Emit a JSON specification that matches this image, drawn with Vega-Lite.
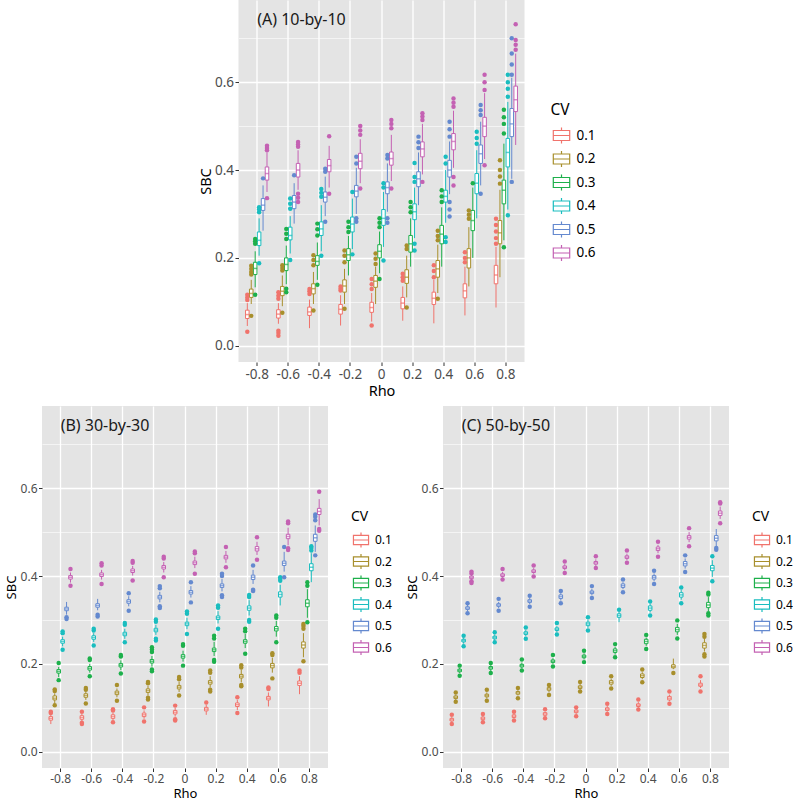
{
"$schema": "https://vega.github.io/schema/vega-lite/v6.json",
"padding": {"left": 5, "top": 0, "right": 0, "bottom": 0},
"config": {
  "font": "Noto Sans",
  "view": {"fill": "#E4E4E4", "stroke": null},
  "axis": {"labelFont": "Noto Sans", "titleFont": "Noto Sans", "labelFontSize": 12, "labelColor": "#4D4D4D", "titleFontSize": 13, "titleFontWeight": "normal", "titleColor": "black", "tickColor": "#333333", "tickSize": 3.5, "labelPadding": 1.5, "titlePadding": 2, "domain": false, "gridColor": "white"},
  "legend": {"titleFont": "Noto Sans", "labelFont": "Noto Sans", "titleFontSize": 14, "titleFontWeight": "normal", "labelFontSize": 12, "labelColor": "black", "symbolType": "M-0.82,-0.5H0.82V0.5H-0.82Z M-0.82,0H0.82 M0,-0.5V-0.8 M0,0.5V0.8", "symbolSize": 340, "symbolStrokeWidth": 1.2, "rowPadding": 1.5, "titlePadding": 6, "labelOffset": 4}
},
"datasets": {"d": [
{"p":"A","r":"-0.8","c":"0.1","lo":0.045,"q1":0.062,"m":0.071,"q3":0.081,"hi":0.097,"o":[0.032,0.104,0.110,0.116]},
{"p":"A","r":"-0.8","c":"0.2","lo":0.095,"q1":0.110,"m":0.119,"q3":0.129,"hi":0.150,"o":[0.068,0.162,0.168,0.175,0.182]},
{"p":"A","r":"-0.8","c":"0.3","lo":0.133,"q1":0.162,"m":0.176,"q3":0.190,"hi":0.215,"o":[0.116,0.232,0.238,0.243]},
{"p":"A","r":"-0.8","c":"0.4","lo":0.205,"q1":0.228,"m":0.240,"q3":0.259,"hi":0.290,"o":[0.188,0.304,0.310,0.315]},
{"p":"A","r":"-0.8","c":"0.5","lo":0.262,"q1":0.308,"m":0.320,"q3":0.335,"hi":0.365,"o":[0.381]},
{"p":"A","r":"-0.8","c":"0.6","lo":0.350,"q1":0.377,"m":0.392,"q3":0.407,"hi":0.440,"o":[0.336,0.445,0.450,0.455]},
{"p":"A","r":"-0.6","c":"0.1","lo":0.050,"q1":0.063,"m":0.072,"q3":0.082,"hi":0.097,"o":[0.023,0.029,0.034,0.107,0.114,0.122]},
{"p":"A","r":"-0.6","c":"0.2","lo":0.090,"q1":0.114,"m":0.124,"q3":0.135,"hi":0.160,"o":[0.075,0.171,0.177,0.183]},
{"p":"A","r":"-0.6","c":"0.3","lo":0.140,"q1":0.171,"m":0.185,"q3":0.200,"hi":0.228,"o":[0.122,0.130,0.243,0.255,0.266]},
{"p":"A","r":"-0.6","c":"0.4","lo":0.210,"q1":0.241,"m":0.251,"q3":0.270,"hi":0.295,"o":[0.195,0.312,0.323,0.335]},
{"p":"A","r":"-0.6","c":"0.5","lo":0.278,"q1":0.312,"m":0.327,"q3":0.342,"hi":0.370,"o":[0.388]},
{"p":"A","r":"-0.6","c":"0.6","lo":0.355,"q1":0.384,"m":0.400,"q3":0.415,"hi":0.445,"o":[0.327,0.337,0.346,0.453,0.458,0.464]},
{"p":"A","r":"-0.4","c":"0.1","lo":0.040,"q1":0.069,"m":0.077,"q3":0.088,"hi":0.105,"o":[0.118,0.124,0.129]},
{"p":"A","r":"-0.4","c":"0.2","lo":0.095,"q1":0.118,"m":0.130,"q3":0.141,"hi":0.168,"o":[0.080,0.183,0.195,0.206]},
{"p":"A","r":"-0.4","c":"0.3","lo":0.150,"q1":0.183,"m":0.192,"q3":0.205,"hi":0.235,"o":[0.139,0.251,0.265,0.278]},
{"p":"A","r":"-0.4","c":"0.4","lo":0.215,"q1":0.251,"m":0.266,"q3":0.282,"hi":0.320,"o":[0.205,0.339,0.348,0.357]},
{"p":"A","r":"-0.4","c":"0.5","lo":0.295,"q1":0.327,"m":0.338,"q3":0.350,"hi":0.385,"o":[0.282,0.396,0.403]},
{"p":"A","r":"-0.4","c":"0.6","lo":0.360,"q1":0.396,"m":0.410,"q3":0.424,"hi":0.455,"o":[0.346,0.477]},
{"p":"A","r":"-0.2","c":"0.1","lo":0.046,"q1":0.072,"m":0.083,"q3":0.094,"hi":0.115,"o":[0.126,0.130,0.135]},
{"p":"A","r":"-0.2","c":"0.2","lo":0.095,"q1":0.122,"m":0.136,"q3":0.150,"hi":0.175,"o":[0.084,0.190,0.205,0.217]},
{"p":"A","r":"-0.2","c":"0.3","lo":0.160,"q1":0.194,"m":0.207,"q3":0.221,"hi":0.250,"o":[0.259,0.270,0.282]},
{"p":"A","r":"-0.2","c":"0.4","lo":0.220,"q1":0.259,"m":0.277,"q3":0.293,"hi":0.335,"o":[0.208,0.350]},
{"p":"A","r":"-0.2","c":"0.5","lo":0.300,"q1":0.339,"m":0.352,"q3":0.365,"hi":0.405,"o":[0.282,0.290,0.415,0.430]},
{"p":"A","r":"-0.2","c":"0.6","lo":0.370,"q1":0.403,"m":0.420,"q3":0.438,"hi":0.470,"o":[0.358,0.480,0.490,0.500]},
{"p":"A","r":"0","c":"0.1","lo":0.055,"q1":0.076,"m":0.087,"q3":0.099,"hi":0.120,"o":[0.046,0.129,0.140,0.152]},
{"p":"A","r":"0","c":"0.2","lo":0.095,"q1":0.133,"m":0.147,"q3":0.160,"hi":0.180,"o":[0.186,0.198,0.210]},
{"p":"A","r":"0","c":"0.3","lo":0.165,"q1":0.200,"m":0.215,"q3":0.230,"hi":0.260,"o":[0.152,0.270,0.280,0.290]},
{"p":"A","r":"0","c":"0.4","lo":0.225,"q1":0.274,"m":0.290,"q3":0.310,"hi":0.350,"o":[0.194,0.360,0.370]},
{"p":"A","r":"0","c":"0.5","lo":0.305,"q1":0.346,"m":0.360,"q3":0.373,"hi":0.415,"o":[0.280,0.290,0.426,0.434]},
{"p":"A","r":"0","c":"0.6","lo":0.375,"q1":0.411,"m":0.426,"q3":0.441,"hi":0.480,"o":[0.358,0.495,0.505,0.514]},
{"p":"A","r":"0.2","c":"0.1","lo":0.057,"q1":0.084,"m":0.097,"q3":0.110,"hi":0.135,"o":[0.148,0.156,0.164]},
{"p":"A","r":"0.2","c":"0.2","lo":0.110,"q1":0.142,"m":0.156,"q3":0.173,"hi":0.205,"o":[0.087,0.220,0.228]},
{"p":"A","r":"0.2","c":"0.3","lo":0.180,"q1":0.213,"m":0.232,"q3":0.251,"hi":0.290,"o":[0.304,0.315,0.327]},
{"p":"A","r":"0.2","c":"0.4","lo":0.245,"q1":0.287,"m":0.305,"q3":0.323,"hi":0.360,"o":[0.217,0.232,0.373,0.384,0.416]},
{"p":"A","r":"0.2","c":"0.5","lo":0.320,"q1":0.362,"m":0.380,"q3":0.396,"hi":0.440,"o":[0.450,0.463,0.476]},
{"p":"A","r":"0.2","c":"0.6","lo":0.390,"q1":0.430,"m":0.448,"q3":0.464,"hi":0.505,"o":[0.373,0.514,0.522,0.529]},
{"p":"A","r":"0.4","c":"0.1","lo":0.051,"q1":0.094,"m":0.108,"q3":0.122,"hi":0.150,"o":[0.156,0.170,0.183]},
{"p":"A","r":"0.4","c":"0.2","lo":0.120,"q1":0.156,"m":0.175,"q3":0.194,"hi":0.230,"o":[0.107,0.240,0.250,0.262]},
{"p":"A","r":"0.4","c":"0.3","lo":0.180,"q1":0.232,"m":0.254,"q3":0.274,"hi":0.315,"o":[0.327,0.340,0.354]},
{"p":"A","r":"0.4","c":"0.4","lo":0.280,"q1":0.327,"m":0.340,"q3":0.354,"hi":0.400,"o":[0.236,0.247,0.415,0.430]},
{"p":"A","r":"0.4","c":"0.5","lo":0.345,"q1":0.384,"m":0.400,"q3":0.422,"hi":0.465,"o":[0.294,0.310,0.327,0.476,0.493,0.510]},
{"p":"A","r":"0.4","c":"0.6","lo":0.405,"q1":0.446,"m":0.465,"q3":0.483,"hi":0.535,"o":[0.365,0.384,0.544,0.553,0.563]},
{"p":"A","r":"0.6","c":"0.1","lo":0.069,"q1":0.109,"m":0.125,"q3":0.141,"hi":0.180,"o":[0.190,0.200,0.213]},
{"p":"A","r":"0.6","c":"0.2","lo":0.135,"q1":0.177,"m":0.200,"q3":0.221,"hi":0.270,"o":[0.289,0.298,0.308]},
{"p":"A","r":"0.6","c":"0.3","lo":0.200,"q1":0.262,"m":0.285,"q3":0.308,"hi":0.360,"o":[0.370]},
{"p":"A","r":"0.6","c":"0.4","lo":0.290,"q1":0.346,"m":0.370,"q3":0.392,"hi":0.445,"o":[0.460,0.473,0.487]},
{"p":"A","r":"0.6","c":"0.5","lo":0.365,"q1":0.415,"m":0.437,"q3":0.457,"hi":0.510,"o":[0.346,0.525,0.536,0.548]},
{"p":"A","r":"0.6","c":"0.6","lo":0.425,"q1":0.476,"m":0.500,"q3":0.520,"hi":0.575,"o":[0.411,0.582,0.600,0.617]},
{"p":"A","r":"0.8","c":"0.1","lo":0.087,"q1":0.141,"m":0.161,"q3":0.183,"hi":0.225,"o":[0.232,0.245,0.260,0.275,0.289]},
{"p":"A","r":"0.8","c":"0.2","lo":0.156,"q1":0.232,"m":0.257,"q3":0.285,"hi":0.355,"o":[0.369,0.385,0.400,0.422]},
{"p":"A","r":"0.8","c":"0.3","lo":0.240,"q1":0.323,"m":0.354,"q3":0.377,"hi":0.460,"o":[0.224,0.483,0.505,0.520,0.537]},
{"p":"A","r":"0.8","c":"0.4","lo":0.310,"q1":0.407,"m":0.440,"q3":0.472,"hi":0.555,"o":[0.297,0.567,0.585,0.600,0.617]},
{"p":"A","r":"0.8","c":"0.5","lo":0.380,"q1":0.476,"m":0.505,"q3":0.540,"hi":0.610,"o":[0.373,0.617,0.640,0.665,0.700]},
{"p":"A","r":"0.8","c":"0.6","lo":0.457,"q1":0.533,"m":0.560,"q3":0.591,"hi":0.665,"o":[0.674,0.685,0.696,0.732]},

{"p":"B","r":"-0.8","c":"0.1","lo":0.063,"q1":0.072,"m":0.076,"q3":0.080,"hi":0.085,"o":[0.088,0.091]},
{"p":"B","r":"-0.8","c":"0.2","lo":0.110,"q1":0.118,"m":0.122,"q3":0.127,"hi":0.133,"o":[0.106,0.138,0.142]},
{"p":"B","r":"-0.8","c":"0.3","lo":0.170,"q1":0.179,"m":0.183,"q3":0.187,"hi":0.193,"o":[0.163,0.202]},
{"p":"B","r":"-0.8","c":"0.4","lo":0.240,"q1":0.247,"m":0.251,"q3":0.255,"hi":0.262,"o":[0.232,0.270,0.274]},
{"p":"B","r":"-0.8","c":"0.5","lo":0.312,"q1":0.321,"m":0.325,"q3":0.329,"hi":0.341,"o":[0.302,0.306]},
{"p":"B","r":"-0.8","c":"0.6","lo":0.385,"q1":0.393,"m":0.397,"q3":0.401,"hi":0.408,"o":[0.378,0.416]},
{"p":"B","r":"-0.6","c":"0.1","lo":0.068,"q1":0.074,"m":0.078,"q3":0.082,"hi":0.086,"o":[0.063,0.066,0.091]},
{"p":"B","r":"-0.6","c":"0.2","lo":0.118,"q1":0.124,"m":0.128,"q3":0.132,"hi":0.137,"o":[0.110,0.141,0.145]},
{"p":"B","r":"-0.6","c":"0.3","lo":0.180,"q1":0.186,"m":0.190,"q3":0.194,"hi":0.200,"o":[0.172,0.209,0.212]},
{"p":"B","r":"-0.6","c":"0.4","lo":0.250,"q1":0.256,"m":0.260,"q3":0.264,"hi":0.270,"o":[0.242,0.276,0.280]},
{"p":"B","r":"-0.6","c":"0.5","lo":0.322,"q1":0.329,"m":0.333,"q3":0.337,"hi":0.348,"o":[0.308,0.312]},
{"p":"B","r":"-0.6","c":"0.6","lo":0.392,"q1":0.399,"m":0.403,"q3":0.407,"hi":0.414,"o":[0.382,0.424,0.429]},
{"p":"B","r":"-0.4","c":"0.1","lo":0.071,"q1":0.076,"m":0.080,"q3":0.084,"hi":0.089,"o":[0.067,0.094,0.097]},
{"p":"B","r":"-0.4","c":"0.2","lo":0.124,"q1":0.130,"m":0.134,"q3":0.138,"hi":0.144,"o":[0.116,0.152]},
{"p":"B","r":"-0.4","c":"0.3","lo":0.186,"q1":0.193,"m":0.197,"q3":0.201,"hi":0.208,"o":[0.178,0.217,0.220]},
{"p":"B","r":"-0.4","c":"0.4","lo":0.257,"q1":0.264,"m":0.268,"q3":0.272,"hi":0.280,"o":[0.249,0.289,0.293]},
{"p":"B","r":"-0.4","c":"0.5","lo":0.331,"q1":0.338,"m":0.342,"q3":0.346,"hi":0.354,"o":[0.321,0.361]},
{"p":"B","r":"-0.4","c":"0.6","lo":0.401,"q1":0.408,"m":0.412,"q3":0.416,"hi":0.423,"o":[0.390,0.430,0.434]},
{"p":"B","r":"-0.2","c":"0.1","lo":0.075,"q1":0.080,"m":0.084,"q3":0.088,"hi":0.094,"o":[0.069,0.101]},
{"p":"B","r":"-0.2","c":"0.2","lo":0.128,"q1":0.135,"m":0.139,"q3":0.143,"hi":0.150,"o":[0.119,0.123,0.156,0.159]},
{"p":"B","r":"-0.2","c":"0.3","lo":0.194,"q1":0.202,"m":0.206,"q3":0.210,"hi":0.218,"o":[0.183,0.187,0.227,0.233,0.238]},
{"p":"B","r":"-0.2","c":"0.4","lo":0.266,"q1":0.273,"m":0.277,"q3":0.281,"hi":0.289,"o":[0.253,0.257,0.296,0.301]},
{"p":"B","r":"-0.2","c":"0.5","lo":0.340,"q1":0.348,"m":0.352,"q3":0.356,"hi":0.364,"o":[0.327,0.331,0.372,0.377]},
{"p":"B","r":"-0.2","c":"0.6","lo":0.408,"q1":0.416,"m":0.420,"q3":0.424,"hi":0.432,"o":[0.397,0.440,0.444]},
{"p":"B","r":"0","c":"0.1","lo":0.080,"q1":0.086,"m":0.090,"q3":0.094,"hi":0.100,"o":[0.071,0.074,0.105]},
{"p":"B","r":"0","c":"0.2","lo":0.136,"q1":0.143,"m":0.147,"q3":0.151,"hi":0.159,"o":[0.128,0.165,0.170]},
{"p":"B","r":"0","c":"0.3","lo":0.205,"q1":0.213,"m":0.217,"q3":0.221,"hi":0.230,"o":[0.196,0.241,0.245]},
{"p":"B","r":"0","c":"0.4","lo":0.279,"q1":0.287,"m":0.291,"q3":0.295,"hi":0.305,"o":[0.268,0.314,0.319]},
{"p":"B","r":"0","c":"0.5","lo":0.351,"q1":0.359,"m":0.363,"q3":0.367,"hi":0.377,"o":[0.340,0.386]},
{"p":"B","r":"0","c":"0.6","lo":0.418,"q1":0.426,"m":0.430,"q3":0.434,"hi":0.444,"o":[0.405,0.452,0.456]},
{"p":"B","r":"0.2","c":"0.1","lo":0.084,"q1":0.093,"m":0.097,"q3":0.101,"hi":0.107,"o":[0.112]},
{"p":"B","r":"0.2","c":"0.2","lo":0.146,"q1":0.154,"m":0.158,"q3":0.162,"hi":0.172,"o":[0.137,0.141,0.180,0.185]},
{"p":"B","r":"0.2","c":"0.3","lo":0.218,"q1":0.228,"m":0.232,"q3":0.236,"hi":0.250,"o":[0.205,0.209,0.258,0.264]},
{"p":"B","r":"0.2","c":"0.4","lo":0.292,"q1":0.301,"m":0.305,"q3":0.309,"hi":0.320,"o":[0.280,0.328,0.333]},
{"p":"B","r":"0.2","c":"0.5","lo":0.365,"q1":0.374,"m":0.378,"q3":0.382,"hi":0.393,"o":[0.352,0.356,0.400,0.405]},
{"p":"B","r":"0.2","c":"0.6","lo":0.430,"q1":0.439,"m":0.443,"q3":0.447,"hi":0.457,"o":[0.420,0.466]},
{"p":"B","r":"0.4","c":"0.1","lo":0.095,"q1":0.103,"m":0.107,"q3":0.111,"hi":0.118,"o":[0.088,0.124]},
{"p":"B","r":"0.4","c":"0.2","lo":0.158,"q1":0.168,"m":0.172,"q3":0.176,"hi":0.187,"o":[0.149,0.152,0.192,0.197]},
{"p":"B","r":"0.4","c":"0.3","lo":0.236,"q1":0.247,"m":0.251,"q3":0.255,"hi":0.268,"o":[0.223,0.274,0.280]},
{"p":"B","r":"0.4","c":"0.4","lo":0.310,"q1":0.322,"m":0.327,"q3":0.332,"hi":0.345,"o":[0.296,0.300,0.352,0.357]},
{"p":"B","r":"0.4","c":"0.5","lo":0.382,"q1":0.392,"m":0.397,"q3":0.402,"hi":0.414,"o":[0.366,0.369,0.424]},
{"p":"B","r":"0.4","c":"0.6","lo":0.448,"q1":0.457,"m":0.462,"q3":0.467,"hi":0.478,"o":[0.437,0.488]},
{"p":"B","r":"0.6","c":"0.1","lo":0.103,"q1":0.118,"m":0.122,"q3":0.126,"hi":0.135,"o":[0.143,0.146]},
{"p":"B","r":"0.6","c":"0.2","lo":0.180,"q1":0.191,"m":0.196,"q3":0.201,"hi":0.214,"o":[0.167,0.220,0.224]},
{"p":"B","r":"0.6","c":"0.3","lo":0.262,"q1":0.275,"m":0.280,"q3":0.285,"hi":0.298,"o":[0.249,0.305,0.310]},
{"p":"B","r":"0.6","c":"0.4","lo":0.333,"q1":0.352,"m":0.358,"q3":0.364,"hi":0.380,"o":[0.389,0.393,0.397]},
{"p":"B","r":"0.6","c":"0.5","lo":0.410,"q1":0.424,"m":0.429,"q3":0.434,"hi":0.455,"o":[0.397,0.466]},
{"p":"B","r":"0.6","c":"0.6","lo":0.470,"q1":0.485,"m":0.490,"q3":0.495,"hi":0.510,"o":[0.459,0.463,0.520,0.524]},
{"p":"B","r":"0.8","c":"0.1","lo":0.131,"q1":0.151,"m":0.156,"q3":0.161,"hi":0.172,"o":[0.180,0.185]},
{"p":"B","r":"0.8","c":"0.2","lo":0.215,"q1":0.236,"m":0.243,"q3":0.250,"hi":0.270,"o":[0.206,0.280,0.286,0.291]},
{"p":"B","r":"0.8","c":"0.3","lo":0.305,"q1":0.330,"m":0.338,"q3":0.346,"hi":0.370,"o":[0.295,0.378,0.386]},
{"p":"B","r":"0.8","c":"0.4","lo":0.386,"q1":0.412,"m":0.420,"q3":0.428,"hi":0.452,"o":[0.458,0.464,0.468]},
{"p":"B","r":"0.8","c":"0.5","lo":0.455,"q1":0.479,"m":0.487,"q3":0.495,"hi":0.515,"o":[0.447,0.527,0.535,0.540]},
{"p":"B","r":"0.8","c":"0.6","lo":0.515,"q1":0.540,"m":0.547,"q3":0.554,"hi":0.575,"o":[0.503,0.507,0.592]},

{"p":"C","r":"-0.8","c":"0.1","lo":0.067,"q1":0.070,"m":0.073,"q3":0.076,"hi":0.079,"o":[0.063,0.084]},
{"p":"C","r":"-0.8","c":"0.2","lo":0.118,"q1":0.121,"m":0.124,"q3":0.127,"hi":0.130,"o":[0.114,0.135]},
{"p":"C","r":"-0.8","c":"0.3","lo":0.179,"q1":0.182,"m":0.185,"q3":0.188,"hi":0.191,"o":[0.173,0.196]},
{"p":"C","r":"-0.8","c":"0.4","lo":0.246,"q1":0.250,"m":0.253,"q3":0.256,"hi":0.259,"o":[0.240,0.264]},
{"p":"C","r":"-0.8","c":"0.5","lo":0.320,"q1":0.324,"m":0.327,"q3":0.330,"hi":0.334,"o":[0.315,0.338]},
{"p":"C","r":"-0.8","c":"0.6","lo":0.390,"q1":0.394,"m":0.397,"q3":0.400,"hi":0.404,"o":[0.384,0.388,0.406,0.410]},
{"p":"C","r":"-0.6","c":"0.1","lo":0.070,"q1":0.073,"m":0.076,"q3":0.079,"hi":0.082,"o":[0.067,0.086]},
{"p":"C","r":"-0.6","c":"0.2","lo":0.121,"q1":0.125,"m":0.128,"q3":0.131,"hi":0.135,"o":[0.116,0.141]},
{"p":"C","r":"-0.6","c":"0.3","lo":0.184,"q1":0.188,"m":0.191,"q3":0.194,"hi":0.197,"o":[0.179,0.202]},
{"p":"C","r":"-0.6","c":"0.4","lo":0.254,"q1":0.257,"m":0.260,"q3":0.263,"hi":0.267,"o":[0.249,0.272]},
{"p":"C","r":"-0.6","c":"0.5","lo":0.327,"q1":0.331,"m":0.334,"q3":0.337,"hi":0.341,"o":[0.321,0.348]},
{"p":"C","r":"-0.6","c":"0.6","lo":0.396,"q1":0.399,"m":0.402,"q3":0.405,"hi":0.409,"o":[0.392,0.416]},
{"p":"C","r":"-0.4","c":"0.1","lo":0.076,"q1":0.078,"m":0.081,"q3":0.084,"hi":0.087,"o":[0.071,0.091]},
{"p":"C","r":"-0.4","c":"0.2","lo":0.128,"q1":0.131,"m":0.134,"q3":0.137,"hi":0.140,"o":[0.122,0.145]},
{"p":"C","r":"-0.4","c":"0.3","lo":0.190,"q1":0.193,"m":0.196,"q3":0.199,"hi":0.203,"o":[0.185,0.210]},
{"p":"C","r":"-0.4","c":"0.4","lo":0.263,"q1":0.267,"m":0.270,"q3":0.273,"hi":0.277,"o":[0.257,0.283]},
{"p":"C","r":"-0.4","c":"0.5","lo":0.336,"q1":0.340,"m":0.343,"q3":0.346,"hi":0.350,"o":[0.330,0.355]},
{"p":"C","r":"-0.4","c":"0.6","lo":0.405,"q1":0.408,"m":0.411,"q3":0.414,"hi":0.418,"o":[0.399,0.424]},
{"p":"C","r":"-0.2","c":"0.1","lo":0.080,"q1":0.083,"m":0.086,"q3":0.089,"hi":0.092,"o":[0.076,0.097]},
{"p":"C","r":"-0.2","c":"0.2","lo":0.135,"q1":0.140,"m":0.143,"q3":0.146,"hi":0.149,"o":[0.129,0.152]},
{"p":"C","r":"-0.2","c":"0.3","lo":0.200,"q1":0.203,"m":0.206,"q3":0.209,"hi":0.213,"o":[0.194,0.220]},
{"p":"C","r":"-0.2","c":"0.4","lo":0.272,"q1":0.276,"m":0.279,"q3":0.282,"hi":0.286,"o":[0.267,0.293]},
{"p":"C","r":"-0.2","c":"0.5","lo":0.344,"q1":0.349,"m":0.353,"q3":0.357,"hi":0.361,"o":[0.338,0.366]},
{"p":"C","r":"-0.2","c":"0.6","lo":0.413,"q1":0.417,"m":0.420,"q3":0.423,"hi":0.427,"o":[0.407,0.433]},
{"p":"C","r":"0","c":"0.1","lo":0.085,"q1":0.089,"m":0.092,"q3":0.095,"hi":0.097,"o":[0.081,0.101]},
{"p":"C","r":"0","c":"0.2","lo":0.141,"q1":0.144,"m":0.147,"q3":0.150,"hi":0.154,"o":[0.137,0.159]},
{"p":"C","r":"0","c":"0.3","lo":0.210,"q1":0.214,"m":0.217,"q3":0.220,"hi":0.224,"o":[0.204,0.230]},
{"p":"C","r":"0","c":"0.4","lo":0.282,"q1":0.287,"m":0.291,"q3":0.295,"hi":0.300,"o":[0.276,0.306]},
{"p":"C","r":"0","c":"0.5","lo":0.356,"q1":0.360,"m":0.363,"q3":0.366,"hi":0.371,"o":[0.350,0.377]},
{"p":"C","r":"0","c":"0.6","lo":0.423,"q1":0.427,"m":0.430,"q3":0.433,"hi":0.438,"o":[0.418,0.445]},
{"p":"C","r":"0.2","c":"0.1","lo":0.091,"q1":0.094,"m":0.097,"q3":0.100,"hi":0.104,"o":[0.086,0.109]},
{"p":"C","r":"0.2","c":"0.2","lo":0.150,"q1":0.154,"m":0.158,"q3":0.162,"hi":0.166,"o":[0.144,0.172]},
{"p":"C","r":"0.2","c":"0.3","lo":0.221,"q1":0.226,"m":0.230,"q3":0.234,"hi":0.239,"o":[0.215,0.245]},
{"p":"C","r":"0.2","c":"0.4","lo":0.295,"q1":0.306,"m":0.310,"q3":0.314,"hi":0.318,"o":[0.323]},
{"p":"C","r":"0.2","c":"0.5","lo":0.370,"q1":0.374,"m":0.378,"q3":0.382,"hi":0.386,"o":[0.363,0.392]},
{"p":"C","r":"0.2","c":"0.6","lo":0.436,"q1":0.440,"m":0.443,"q3":0.446,"hi":0.451,"o":[0.430,0.458]},
{"p":"C","r":"0.4","c":"0.1","lo":0.100,"q1":0.103,"m":0.106,"q3":0.109,"hi":0.113,"o":[0.096,0.119]},
{"p":"C","r":"0.4","c":"0.2","lo":0.165,"q1":0.169,"m":0.173,"q3":0.177,"hi":0.181,"o":[0.158,0.187]},
{"p":"C","r":"0.4","c":"0.3","lo":0.241,"q1":0.246,"m":0.251,"q3":0.256,"hi":0.260,"o":[0.234,0.266]},
{"p":"C","r":"0.4","c":"0.4","lo":0.317,"q1":0.322,"m":0.327,"q3":0.332,"hi":0.337,"o":[0.310,0.342]},
{"p":"C","r":"0.4","c":"0.5","lo":0.388,"q1":0.393,"m":0.397,"q3":0.401,"hi":0.406,"o":[0.382,0.412]},
{"p":"C","r":"0.4","c":"0.6","lo":0.452,"q1":0.458,"m":0.462,"q3":0.466,"hi":0.471,"o":[0.444,0.478]},
{"p":"C","r":"0.6","c":"0.1","lo":0.115,"q1":0.118,"m":0.122,"q3":0.126,"hi":0.130,"o":[0.109,0.137]},
{"p":"C","r":"0.6","c":"0.2","lo":0.188,"q1":0.191,"m":0.194,"q3":0.198,"hi":0.212,"o":[0.179]},
{"p":"C","r":"0.6","c":"0.3","lo":0.266,"q1":0.273,"m":0.278,"q3":0.283,"hi":0.291,"o":[0.258,0.299]},
{"p":"C","r":"0.6","c":"0.4","lo":0.346,"q1":0.352,"m":0.357,"q3":0.362,"hi":0.368,"o":[0.338,0.374]},
{"p":"C","r":"0.6","c":"0.5","lo":0.417,"q1":0.423,"m":0.428,"q3":0.433,"hi":0.440,"o":[0.409,0.447]},
{"p":"C","r":"0.6","c":"0.6","lo":0.477,"q1":0.484,"m":0.488,"q3":0.492,"hi":0.500,"o":[0.468,0.509]},
{"p":"C","r":"0.8","c":"0.1","lo":0.145,"q1":0.149,"m":0.152,"q3":0.156,"hi":0.163,"o":[0.137,0.172]},
{"p":"C","r":"0.8","c":"0.2","lo":0.228,"q1":0.236,"m":0.242,"q3":0.248,"hi":0.258,"o":[0.217,0.222,0.262,0.268]},
{"p":"C","r":"0.8","c":"0.3","lo":0.320,"q1":0.328,"m":0.334,"q3":0.340,"hi":0.352,"o":[0.310,0.315,0.358,0.362]},
{"p":"C","r":"0.8","c":"0.4","lo":0.398,"q1":0.412,"m":0.418,"q3":0.424,"hi":0.436,"o":[0.388,0.445]},
{"p":"C","r":"0.8","c":"0.5","lo":0.468,"q1":0.480,"m":0.486,"q3":0.492,"hi":0.507,"o":[0.460,0.464]},
{"p":"C","r":"0.8","c":"0.6","lo":0.530,"q1":0.538,"m":0.543,"q3":0.548,"hi":0.558,"o":[0.520,0.565,0.568]}
]},
"vconcat": [
{
  "width": 286, "height": 362,
  "data": {"name": "d"},
  "layer": [
    {"transform": [{"filter": "datum.p=='A'"}], "mark": {"type": "rule", "strokeWidth": 1},
     "encoding": {
      "x": {"field": "r", "type": "nominal", "title": "Rho", "scale": {"domain": ["-0.8","-0.6","-0.4","-0.2","0","0.2","0.4","0.6","0.8"], "paddingInner": 0, "paddingOuter": 0.1}, "axis": {"labelAngle": 0, "bandPosition": 0.5, "grid": true, "gridWidth": 1.3, "titlePadding": 4, "labelFontSize": 13.5, "titleFontSize": 14.5}},
      "xOffset": {"field": "c", "type": "nominal", "scale": {"domain": ["0.1","0.2","0.3","0.4","0.5","0.6"], "paddingInner": 0.1, "paddingOuter": 1}},
      "y": {"field": "lo", "type": "quantitative", "title": "SBC", "scale": {"domain": [-0.037, 0.787], "nice": false, "zero": false}, "axis": {"labelFontSize": 13.5, "titleFontSize": 14.5, "titlePadding": 1, "values": [0,0.1,0.2,0.3,0.4,0.5,0.6,0.7], "labelExpr": "round(datum.value*10)%2==0 ? format(datum.value,'.1f') : ''", "gridWidth": {"condition": {"test": "round(datum.value*10)%2==0", "value": 1.3}, "value": 0.6}, "tickOpacity": {"condition": {"test": "round(datum.value*10)%2==0", "value": 1}, "value": 0}}},
      "y2": {"field": "hi"},
      "color": {"field": "c", "type": "nominal", "title": "CV", "scale": {"domain": ["0.1","0.2","0.3","0.4","0.5","0.6"], "range": ["#F0736C","#A88F2C","#1DB04B","#1ABDBF","#6489CF","#C461B3"]}, "legend": {"title": "CV", "orient": "none", "legendX": 312, "legendY": 103, "labelFontSize": 13.5, "titleFontSize": 15.5, "symbolSize": 400}}
     }},
    {"transform": [{"filter": "datum.p=='A'"}], "mark": {"type": "bar", "filled": false, "fill": "white", "strokeWidth": 1},
     "encoding": {
      "x": {"field": "r", "type": "nominal", "title": "Rho"},
      "xOffset": {"field": "c", "type": "nominal"},
      "y": {"field": "q1", "type": "quantitative", "title": "SBC"},
      "y2": {"field": "q3"},
      "color": {"field": "c", "type": "nominal", "title": "CV", "legend": {"title": "CV", "orient": "none", "legendX": 312, "legendY": 103, "labelFontSize": 13.5, "titleFontSize": 15.5, "symbolSize": 400}}
     }},
    {"transform": [{"filter": "datum.p=='A'"}], "mark": {"type": "tick", "thickness": 1.5, "size": 4},
     "encoding": {
      "x": {"field": "r", "type": "nominal", "title": "Rho"},
      "xOffset": {"field": "c", "type": "nominal"},
      "y": {"field": "m", "type": "quantitative", "title": "SBC"},
      "fill": {"field": "c", "type": "nominal", "scale": {"range": ["#F0736C","#A88F2C","#1DB04B","#1ABDBF","#6489CF","#C461B3"]}, "legend": null}
     }},
    {"transform": [{"filter": "datum.p=='A'"}, {"flatten": ["o"]}], "mark": {"type": "circle", "size": 20, "opacity": 1},
     "encoding": {
      "x": {"field": "r", "type": "nominal", "title": "Rho"},
      "xOffset": {"field": "c", "type": "nominal"},
      "y": {"field": "o", "type": "quantitative", "title": "SBC"},
      "fill": {"field": "c", "type": "nominal", "legend": null}
     }},
    {"data": {"values": [{}]}, "mark": {"type": "text", "text": "(A) 10-by-10", "align": "left", "baseline": "middle", "fontSize": 16, "font": "Noto Sans", "color": "#1A1A1A"},
     "encoding": {"x": {"datum": "-0.8", "type": "nominal"}, "y": {"datum": 0.742, "type": "quantitative"}}}
  ]
},
{
  "hconcat": [
  {
    "width": 286, "height": 362,
    "data": {"name": "d"},
    "layer": [
      {"transform": [{"filter": "datum.p=='B'"}], "mark": {"type": "rule", "strokeWidth": 1},
       "encoding": {
        "x": {"field": "r", "type": "nominal", "title": "Rho", "scale": {"domain": ["-0.8","-0.6","-0.4","-0.2","0","0.2","0.4","0.6","0.8"], "paddingInner": 0, "paddingOuter": 0.1}, "axis": {"labelAngle": 0, "bandPosition": 0.5, "grid": true, "gridWidth": 1.3, "titlePadding": 3}},
        "xOffset": {"field": "c", "type": "nominal", "scale": {"domain": ["0.1","0.2","0.3","0.4","0.5","0.6"], "paddingInner": 0.1, "paddingOuter": 1}},
        "y": {"field": "lo", "type": "quantitative", "title": "SBC", "scale": {"domain": [-0.037, 0.787], "nice": false, "zero": false}, "axis": {"values": [0,0.1,0.2,0.3,0.4,0.5,0.6,0.7], "labelExpr": "round(datum.value*10)%2==0 ? format(datum.value,'.1f') : ''", "gridWidth": {"condition": {"test": "round(datum.value*10)%2==0", "value": 1.3}, "value": 0.6}, "tickOpacity": {"condition": {"test": "round(datum.value*10)%2==0", "value": 1}, "value": 0}}},
        "y2": {"field": "hi"},
        "color": {"field": "c", "type": "nominal", "title": "CV", "scale": {"domain": ["0.1","0.2","0.3","0.4","0.5","0.6"], "range": ["#F0736C","#A88F2C","#1DB04B","#1ABDBF","#6489CF","#C461B3"]}, "legend": {"title": "CV", "orient": "none", "legendX": 309, "legendY": 104}}
       }},
      {"transform": [{"filter": "datum.p=='B'"}], "mark": {"type": "bar", "filled": false, "fill": "white", "strokeWidth": 1},
       "encoding": {
        "x": {"field": "r", "type": "nominal", "title": "Rho"},
        "xOffset": {"field": "c", "type": "nominal"},
        "y": {"field": "q1", "type": "quantitative", "title": "SBC"},
        "y2": {"field": "q3"},
        "color": {"field": "c", "type": "nominal", "title": "CV", "legend": {"title": "CV", "orient": "none", "legendX": 309, "legendY": 104}}
       }},
      {"transform": [{"filter": "datum.p=='B'"}], "mark": {"type": "tick", "thickness": 1.5, "size": 4},
       "encoding": {
        "x": {"field": "r", "type": "nominal", "title": "Rho"},
        "xOffset": {"field": "c", "type": "nominal"},
        "y": {"field": "m", "type": "quantitative", "title": "SBC"},
        "fill": {"field": "c", "type": "nominal", "scale": {"range": ["#F0736C","#A88F2C","#1DB04B","#1ABDBF","#6489CF","#C461B3"]}, "legend": null}
       }},
      {"transform": [{"filter": "datum.p=='B'"}, {"flatten": ["o"]}], "mark": {"type": "circle", "size": 20, "opacity": 1},
       "encoding": {
        "x": {"field": "r", "type": "nominal", "title": "Rho"},
        "xOffset": {"field": "c", "type": "nominal"},
        "y": {"field": "o", "type": "quantitative", "title": "SBC"},
        "fill": {"field": "c", "type": "nominal", "legend": null}
       }},
      {"data": {"values": [{}]}, "mark": {"type": "text", "text": "(B) 30-by-30", "align": "left", "baseline": "middle", "fontSize": 16, "font": "Noto Sans", "color": "#1A1A1A"},
       "encoding": {"x": {"datum": "-0.8", "type": "nominal"}, "y": {"datum": 0.742, "type": "quantitative"}}}
    ]
  },
  {
    "width": 286, "height": 362,
    "data": {"name": "d"},
    "layer": [
      {"transform": [{"filter": "datum.p=='C'"}], "mark": {"type": "rule", "strokeWidth": 1},
       "encoding": {
        "x": {"field": "r", "type": "nominal", "title": "Rho", "scale": {"domain": ["-0.8","-0.6","-0.4","-0.2","0","0.2","0.4","0.6","0.8"], "paddingInner": 0, "paddingOuter": 0.1}, "axis": {"labelAngle": 0, "bandPosition": 0.5, "grid": true, "gridWidth": 1.3, "titlePadding": 3}},
        "xOffset": {"field": "c", "type": "nominal", "scale": {"domain": ["0.1","0.2","0.3","0.4","0.5","0.6"], "paddingInner": 0.1, "paddingOuter": 1}},
        "y": {"field": "lo", "type": "quantitative", "title": "SBC", "scale": {"domain": [-0.037, 0.787], "nice": false, "zero": false}, "axis": {"values": [0,0.1,0.2,0.3,0.4,0.5,0.6,0.7], "labelExpr": "round(datum.value*10)%2==0 ? format(datum.value,'.1f') : ''", "gridWidth": {"condition": {"test": "round(datum.value*10)%2==0", "value": 1.3}, "value": 0.6}, "tickOpacity": {"condition": {"test": "round(datum.value*10)%2==0", "value": 1}, "value": 0}}},
        "y2": {"field": "hi"},
        "color": {"field": "c", "type": "nominal", "title": "CV", "scale": {"domain": ["0.1","0.2","0.3","0.4","0.5","0.6"], "range": ["#F0736C","#A88F2C","#1DB04B","#1ABDBF","#6489CF","#C461B3"]}, "legend": {"title": "CV", "orient": "none", "legendX": 309, "legendY": 104}}
       }},
      {"transform": [{"filter": "datum.p=='C'"}], "mark": {"type": "bar", "filled": false, "fill": "white", "strokeWidth": 1},
       "encoding": {
        "x": {"field": "r", "type": "nominal", "title": "Rho"},
        "xOffset": {"field": "c", "type": "nominal"},
        "y": {"field": "q1", "type": "quantitative", "title": "SBC"},
        "y2": {"field": "q3"},
        "color": {"field": "c", "type": "nominal", "title": "CV", "legend": {"title": "CV", "orient": "none", "legendX": 309, "legendY": 104}}
       }},
      {"transform": [{"filter": "datum.p=='C'"}], "mark": {"type": "tick", "thickness": 1.5, "size": 4},
       "encoding": {
        "x": {"field": "r", "type": "nominal", "title": "Rho"},
        "xOffset": {"field": "c", "type": "nominal"},
        "y": {"field": "m", "type": "quantitative", "title": "SBC"},
        "fill": {"field": "c", "type": "nominal", "scale": {"range": ["#F0736C","#A88F2C","#1DB04B","#1ABDBF","#6489CF","#C461B3"]}, "legend": null}
       }},
      {"transform": [{"filter": "datum.p=='C'"}, {"flatten": ["o"]}], "mark": {"type": "circle", "size": 20, "opacity": 1},
       "encoding": {
        "x": {"field": "r", "type": "nominal", "title": "Rho"},
        "xOffset": {"field": "c", "type": "nominal"},
        "y": {"field": "o", "type": "quantitative", "title": "SBC"},
        "fill": {"field": "c", "type": "nominal", "legend": null}
       }},
      {"data": {"values": [{}]}, "mark": {"type": "text", "text": "(C) 50-by-50", "align": "left", "baseline": "middle", "fontSize": 16, "font": "Noto Sans", "color": "#1A1A1A"},
       "encoding": {"x": {"datum": "-0.8", "type": "nominal"}, "y": {"datum": 0.742, "type": "quantitative"}}}
    ]
  }
  ],
  "spacing": 14,
  "resolve": {"legend": {"color": "independent", "fill": "independent"}, "scale": {"color": "independent", "fill": "independent"}}
}
],
"spacing": 8,
"center": true,
"resolve": {"legend": {"color": "independent", "fill": "independent"}, "scale": {"color": "independent", "fill": "independent"}}
}
